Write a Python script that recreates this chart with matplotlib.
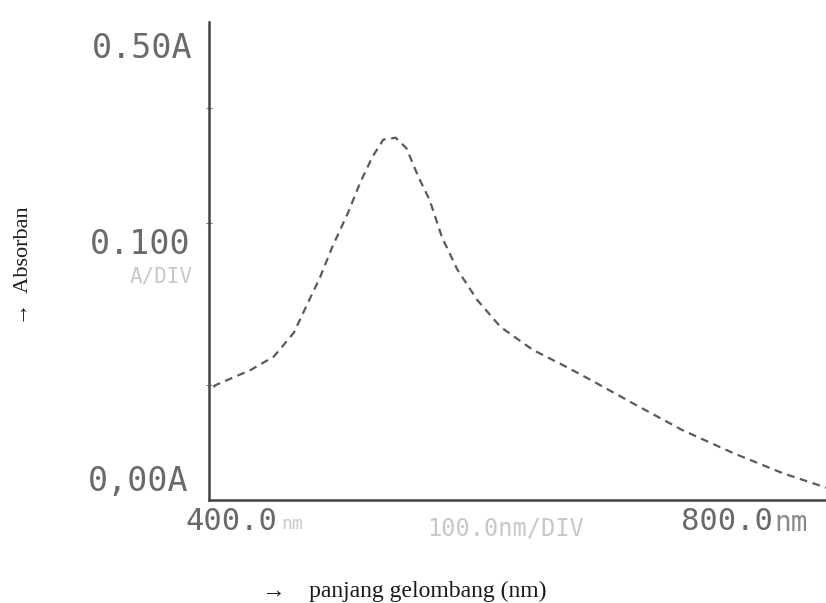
import matplotlib.pyplot as plt

# spectrum
wavelength = [403, 404, 427, 442, 455, 462, 472, 480, 490, 498, 506, 513, 521, 528,
              536, 543, 551, 561, 574, 589, 610, 632, 647, 675, 707, 740, 772, 800]
absorban = [0.118, 0.120, 0.136, 0.150, 0.175, 0.199, 0.233, 0.265, 0.300, 0.332,
            0.359, 0.377, 0.379, 0.368, 0.337, 0.314, 0.275, 0.241, 0.209, 0.181,
            0.157, 0.139, 0.126, 0.101, 0.073, 0.049, 0.028, 0.013]

W, H = 826, 603
fig = plt.figure(figsize=(W / 100, H / 100), dpi=100)
ax = fig.add_axes([209 / W, (H - 500) / H, (W - 209) / W, (500 - 22) / H])

ax.plot(wavelength, absorban, color='#5a5a5a', linewidth=1.6,
        linestyle=(0, (3.5, 2.5)))

ax.set_xlim(400, 800)
ax.set_ylim(0, 0.5)
for s in ['top', 'right']:
    ax.spines[s].set_visible(False)
for s in ['left', 'bottom']:
    ax.spines[s].set_color('#444444')
    ax.spines[s].set_linewidth(1.8)
ax.set_xticks([])
ax.set_yticks([0.12, 0.29, 0.41])
ax.tick_params(axis='y', direction='inout', length=5, color='#777777', labelleft=False)

mono = ['DejaVu Sans Mono']
grey = '#6a6a6a'
faint = '#c8c8c8'

def px(x, y):
    return x / W, 1 - y / H

# y-axis printout labels
fig.text(*px(192, 49), '0.50A', ha='right', va='center', fontsize=24,
         color=grey, family=mono)
fig.text(*px(190, 245), '0.100', ha='right', va='center', fontsize=24,
         color=grey, family=mono)
fig.text(*px(193, 277), 'A/DIV', ha='right', va='center', fontsize=15,
         color=faint, family=mono)
fig.text(*px(188, 482), '0,00A', ha='right', va='center', fontsize=24,
         color=grey, family=mono)

# x-axis printout labels
fig.text(*px(185, 522), '400.0', ha='left', va='center', fontsize=22,
         color=grey, family=mono)
fig.text(*px(281, 524), 'nm', ha='left', va='center', fontsize=13,
         color=faint, family=mono)
fig.text(*px(506, 528), '100.0nm/DIV', ha='center', va='center', fontsize=17,
         color=faint, family=mono)
fig.text(*px(773, 522), '800.0', ha='right', va='center', fontsize=22,
         color=grey, family=mono)
fig.text(*px(774, 523), 'nm', ha='left', va='center', fontsize=20,
         color='#8a8a8a', family=mono)

serif = ['Liberation Serif', 'DejaVu Serif']
fig.text(*px(262, 591), '\u2192    panjang gelombang (nm)', ha='left', va='center',
         fontsize=17, color='#1a1a1a', family=serif)
fig.text(*px(24, 266), '\u2192  Absorban', ha='center', va='center', rotation=90,
         fontsize=16, color='#1a1a1a', family=serif)

fig.savefig('out.png', dpi=100)
